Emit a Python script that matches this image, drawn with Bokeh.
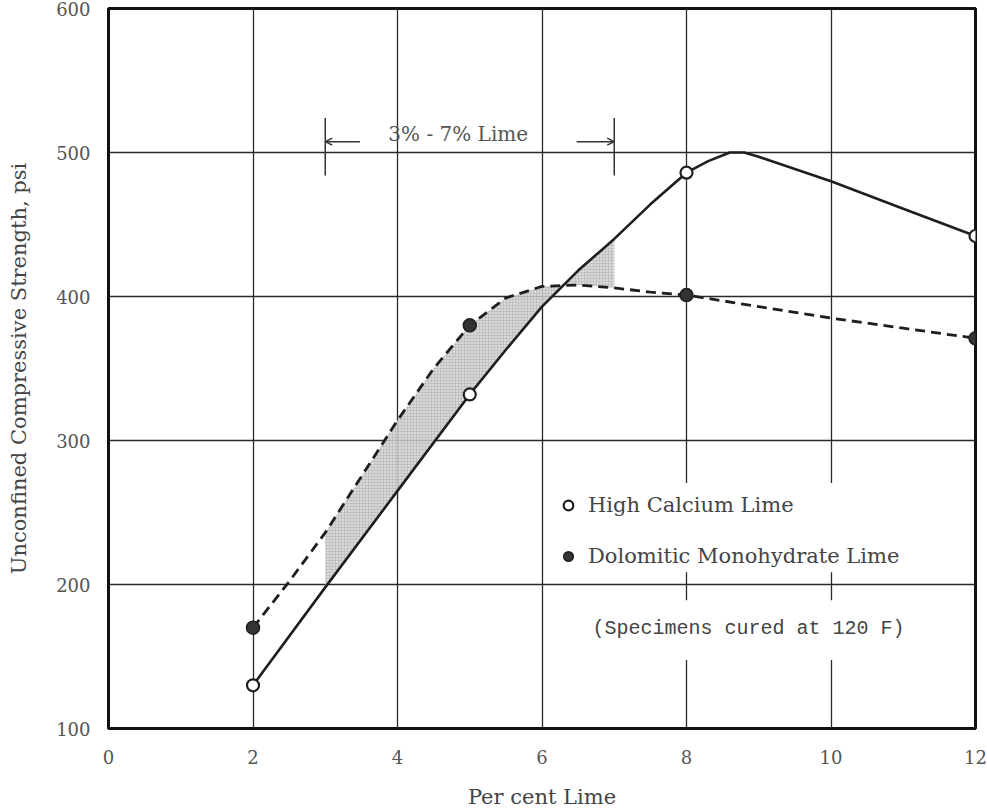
import numpy as np
from bokeh.plotting import figure
from bokeh.models import Range1d, FixedTicker, Legend, LegendItem, Label, Arrow, OpenHead
from bokeh.embed import file_html
from bokeh.resources import INLINE

# ---------------- data ----------------
x_ticks = [0, 2, 4, 6, 8, 10, 12]
y_ticks = [100, 200, 300, 400, 500, 600]

hc_pct = [2, 5, 8, 12]
hc_psi = [130, 332, 486, 442]
dol_pct = [2, 5, 8, 12]
dol_psi = [170, 380, 401, 371]

hc_curve_pct = [2, 3, 4, 5, 5.5, 6, 6.5, 7, 7.5, 8, 8.3, 8.6, 8.8, 9, 10, 11, 12]
hc_curve_psi = [130, 198, 265, 332, 363, 393, 418, 440, 464, 486, 494, 500, 500, 497, 480, 461, 442]
dol_curve_pct = [2, 2.5, 3, 3.5, 4, 4.5, 5, 5.5, 6, 6.5, 7, 7.5, 8, 9, 10, 11, 12]
dol_curve_psi = [170, 202, 236, 275, 314, 350, 380, 399, 407, 408, 406, 403, 401, 393, 385, 378, 371]

range_lo, range_hi = 3, 7
range_text = "3% - 7% Lime"
note_text = "(Specimens cured at 120 F)"

SERIF = "DejaVu Serif"
INK = "#1e1e1e"

p = figure(width=987, height=811, x_range=Range1d(0, 12), y_range=Range1d(100, 600),
           output_backend="svg", toolbar_location=None,
           min_border_left=108, min_border_right=12, min_border_top=8, min_border_bottom=83,
           background_fill_color="white", border_fill_color="white")

# frame & grid
p.outline_line_color = "#111111"
p.outline_line_width = 3
for g, t in ((p.xgrid, x_ticks), (p.ygrid, y_ticks)):
    g.ticker = FixedTicker(ticks=t)
    g.grid_line_color = "#2a2a2a"
    g.grid_line_width = 1.3
    g.grid_line_alpha = 1.0

# axes
p.xaxis.ticker = FixedTicker(ticks=x_ticks)
p.yaxis.ticker = FixedTicker(ticks=y_ticks)
for ax in (p.xaxis, p.yaxis):
    ax.axis_line_color = None
    ax.major_tick_line_color = None
    ax.minor_tick_line_color = None
    ax.major_label_text_font = SERIF
    ax.major_label_text_font_size = "18px"
    ax.major_label_text_color = "#555555"
    ax.axis_label_text_font = SERIF
    ax.axis_label_text_font_size = "21px"
    ax.axis_label_text_font_style = "normal"
    ax.axis_label_text_color = "#444444"
p.xaxis.axis_label = "Per cent Lime"
p.yaxis.axis_label = "Unconfined Compressive Strength, psi"
p.xaxis.major_label_standoff = 15
p.yaxis.major_label_standoff = 12
p.xaxis.axis_label_standoff = 18
p.yaxis.axis_label_standoff = 22

# white-out boxes behind the key (interrupt the grid lines as in the original)
p.quad(left=[6.2, 6.2], right=[11.7, 11.7], bottom=[208.5, 147.5], top=[270.5, 189.0],
       fill_color="white", line_color=None)

# shaded 3%-7% band between curves
xs = np.linspace(range_lo, range_hi, 161)
y_hc = np.interp(xs, hc_curve_pct, hc_curve_psi)
y_dol = np.interp(xs, dol_curve_pct, dol_curve_psi)
p.varea(x=xs, y1=np.minimum(y_hc, y_dol), y2=np.maximum(y_hc, y_dol),
        fill_color="#d2d2d2", fill_alpha=0.85,
        hatch_pattern="cross", hatch_color="#a8a8a8", hatch_scale=3, hatch_weight=0.6, hatch_alpha=0.7)

# curves
p.line(hc_curve_pct, hc_curve_psi, line_color=INK, line_width=2.6)
p.line(dol_curve_pct, dol_curve_psi, line_color=INK, line_width=2.8, line_dash="10 6")

# markers
r_hc = p.scatter(hc_pct, hc_psi, marker="circle", size=12, fill_color="white",
                 line_color=INK, line_width=2.2)
r_dol = p.scatter(dol_pct, dol_psi, marker="circle", size=13, fill_color="#333333",
                  line_color=INK, line_width=1.5)

# 3%-7% bracket annotation
p.segment(x0=[range_lo, range_hi], y0=[484, 484], x1=[range_lo, range_hi], y1=[524, 524],
          line_color="#333333", line_width=1.5)
p.add_layout(Arrow(x_start=range_lo + 0.48, y_start=507.5, x_end=range_lo, y_end=507.5,
                   line_color="#333333", line_width=1.5,
                   end=OpenHead(size=7, line_color="#333333", line_width=1.5)))
p.add_layout(Arrow(x_start=range_hi - 0.52, y_start=507.5, x_end=range_hi, y_end=507.5,
                   line_color="#333333", line_width=1.5,
                   end=OpenHead(size=7, line_color="#333333", line_width=1.5)))
p.add_layout(Label(x=4.84, y=513, text=range_text,
                   text_align="center", text_baseline="middle",
                   text_font=SERIF, text_font_size="20px", text_color="#555555"))

# legend
legend = Legend(items=[LegendItem(label="High Calcium Lime", renderers=[r_hc]),
                       LegendItem(label="Dolomitic Monohydrate Lime", renderers=[r_dol])],
                location=(448, 160), orientation="vertical",
                label_text_font=SERIF, label_text_font_size="21px", label_text_color="#444444",
                glyph_width=24, glyph_height=24, label_height=24, spacing=27, padding=4,
                label_standoff=8, margin=0,
                border_line_color=None, background_fill_alpha=0.0)
p.add_layout(legend)

p.add_layout(Label(x=6.7, y=169.5, text=note_text, text_align="left", text_baseline="middle",
                   text_font="Liberation Mono", text_font_size="20px", text_color="#444444"))

open("out.html", "w").write(file_html(p, INLINE))
